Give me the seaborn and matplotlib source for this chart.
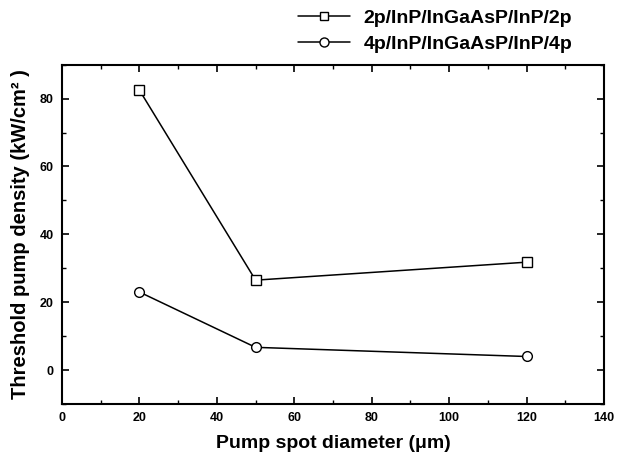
import matplotlib
matplotlib.use("Agg")
import matplotlib.pyplot as plt
import seaborn as sns
import pandas as pd
from matplotlib.ticker import MultipleLocator
from matplotlib.lines import Line2D

diameter = [20, 50, 120]
series_2p = [82.5, 26.5, 31.8]
series_4p = [23.0, 6.7, 4.0]
label_2p = "2p/InP/InGaAsP/InP/2p"
label_4p = "4p/InP/InGaAsP/InP/4p"

df = pd.DataFrame({
    "d": diameter * 2,
    "v": series_2p + series_4p,
    "s": [label_2p] * 3 + [label_4p] * 3,
})

sns.set_theme(style="ticks")
plt.rcParams["font.family"] = ["Liberation Sans", "DejaVu Sans"]
plt.rcParams["font.weight"] = "bold"
plt.rcParams["text.color"] = "black"
plt.rcParams["axes.labelcolor"] = "black"
plt.rcParams["xtick.color"] = "black"
plt.rcParams["ytick.color"] = "black"

fig = plt.figure(figsize=(6.17, 4.58), dpi=100)
ax = fig.add_axes([62/617, 1-404/458, (604-62)/617, (404-64.7)/458])

sns.lineplot(data=df, x="d", y="v", hue="s", style="s",
             markers={label_2p: "s", label_4p: "o"}, dashes=False,
             palette={label_2p: "black", label_4p: "black"},
             markersize=7, markerfacecolor="white", markeredgecolor="black",
             markeredgewidth=1.0, linewidth=1.1, ax=ax, legend=False)

ax.set_xlim(0, 140)
ax.set_ylim(-10, 90)
ax.xaxis.set_major_locator(MultipleLocator(20))
ax.xaxis.set_minor_locator(MultipleLocator(10))
ax.yaxis.set_minor_locator(MultipleLocator(10))
ax.set_yticks([0, 20, 40, 60, 80])
ax.tick_params(which="both", direction="in", top=True, right=True)
ax.tick_params(which="major", length=5, width=1.2, labelsize=9, pad=6)
ax.tick_params(which="minor", length=3, width=1.0)
for lab in ax.get_xticklabels() + ax.get_yticklabels():
    lab.set_fontweight("bold")
for sp in ax.spines.values():
    sp.set_linewidth(1.5)
    sp.set_color("black")

ax.set_xlabel("Pump spot diameter (μm)", fontsize=14, fontweight="bold", labelpad=8)
ax.set_ylabel("Threshold pump density (kW/cm² )", fontsize=14.5, fontweight="bold", labelpad=7)

handles = [
    Line2D([], [], color="black", lw=1.1, marker="s", markersize=5.5, markerfacecolor="white", markeredgecolor="black"),
    Line2D([], [], color="black", lw=1.1, marker="o", markersize=6.5, markerfacecolor="white", markeredgecolor="black"),
]
fig.legend(handles, [label_2p, label_4p], loc="upper left",
           bbox_to_anchor=(286/617, 1 + 2/458), frameon=False,
           prop={"weight": "bold", "size": 14}, handlelength=2.7,
           handletextpad=0.7, labelspacing=0.4, borderaxespad=0.2)

fig.savefig("out.png", dpi=100)
